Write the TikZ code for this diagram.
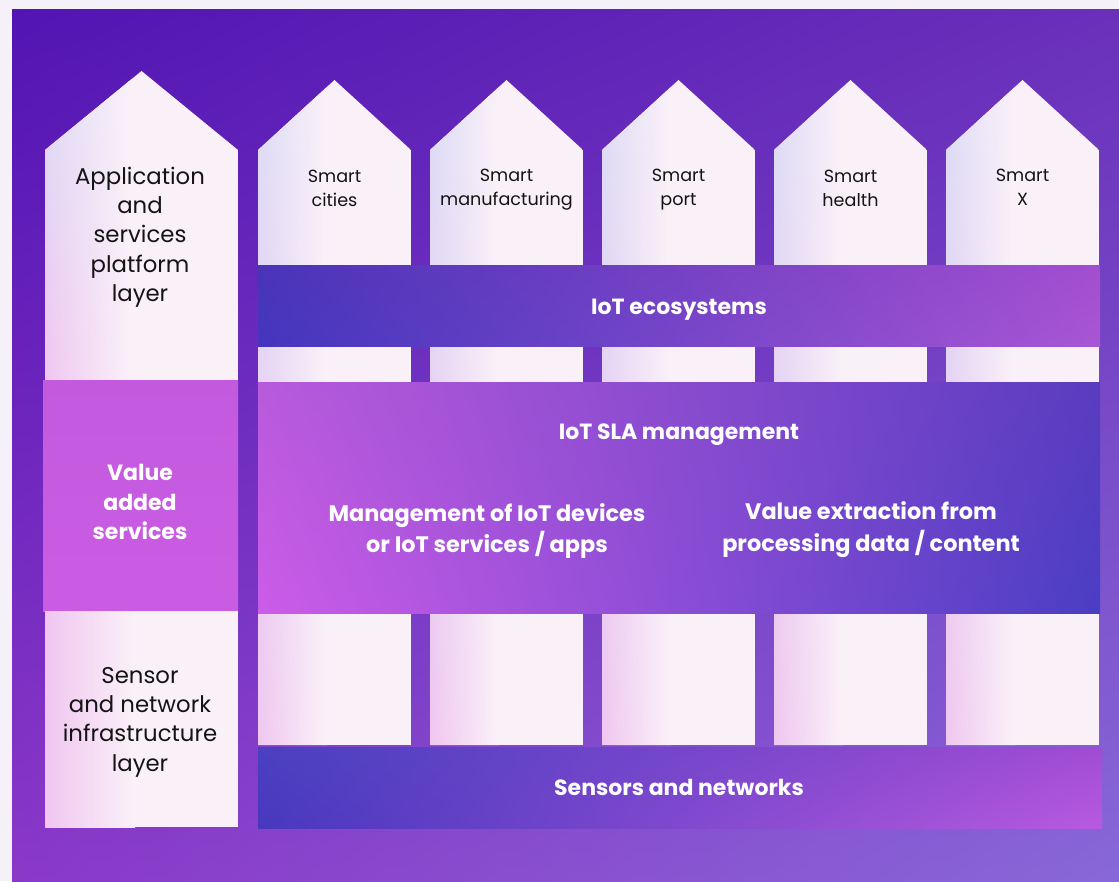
\documentclass[tikz,border=0pt]{standalone}
\usepackage{fontspec}
\usetikzlibrary{shadings}
\setmainfont{Poppins}
\definecolor{pagebg}{HTML}{F6F1F8}
\definecolor{bgUL}{HTML}{5214B3}
\definecolor{bgUR}{HTML}{6A30BA}
\definecolor{bgLL}{HTML}{8A38C8}
\definecolor{bgLR}{HTML}{8868D8}
\definecolor{pilbase}{HTML}{FAF1F8}
\definecolor{pilblue}{HTML}{DCDDF6}
\definecolor{pilpink}{HTML}{F0C6F0}
\definecolor{txtdark}{HTML}{141414}
\definecolor{ecoUL}{HTML}{4A34B8}
\definecolor{ecoLL}{HTML}{4436BE}
\definecolor{ecoUR}{HTML}{A24ED0}
\definecolor{ecoLR}{HTML}{A856D4}
\definecolor{slaUL}{HTML}{B85ADC}
\definecolor{slaLL}{HTML}{CC5CE8}
\definecolor{slaUR}{HTML}{5A3CC0}
\definecolor{slaLR}{HTML}{4A3EC4}
\definecolor{senUL}{HTML}{4A40C0}
\definecolor{senLL}{HTML}{4838BE}
\definecolor{senUR}{HTML}{A04CD4}
\definecolor{senLR}{HTML}{B85AE0}
\definecolor{vasT}{HTML}{C35ADE}
\definecolor{vasB}{HTML}{CA5CE4}
\newcommand\mypillar[5]{%
  \begin{scope}
    \clip (#1,150) -- ({(#1+#2)/2},#3) -- (#2,150) -- (#2,#4) -- (#1,#4) -- cycle;
    \fill[pilbase] (#1,#3) rectangle (#2,#4);
    \shade[upper left=pilblue, lower left=#5, upper right=pilbase, lower right=pilbase] (#1,{#3-2}) rectangle ({#1+0.45*(#2-#1)},{#4+2});
  \end{scope}}
\begin{document}
\begin{tikzpicture}[x=1pt,y=-1pt,
  ptext/.style={align=center, text=txtdark, font=\fontsize{22.8}{29.3}\selectfont, inner sep=0pt},
  ctext/.style={align=center, text=txtdark, font=\fontsize{17.6}{24}\selectfont, inner sep=0pt},
  wtext/.style={align=center, text=white, font=\fontsize{22}{29.3}\selectfont\bfseries, inner sep=0pt},
  btext/.style={align=center, text=white, font=\fontsize{22.4}{32}\selectfont\bfseries, inner sep=0pt}]
\useasboundingbox (0,0) rectangle (1119,881);
\fill[pagebg] (0,0) rectangle (1119,881);
\shade[upper left=bgUL, upper right=bgUR, lower left=bgLL, lower right=bgLR] (12,9) rectangle (1119,881);
% left column
\mypillar{45}{238}{71}{380}{pilpink}
\shade[top color=vasT, bottom color=vasB] (43,380) rectangle (238,611);
\begin{scope}
  \clip (45,611) rectangle (238,827);
  \fill[pilbase] (45,611) rectangle (238,827);
  \shade[left color=pilpink, right color=pilbase] (45,608) rectangle (135,830);
\end{scope}
% pillars
\mypillar{258}{411}{80}{745}{pilpink}
\mypillar{430}{583}{80}{745}{pilpink}
\mypillar{602}{755}{80}{745}{pilpink}
\mypillar{774}{927}{80}{745}{pilpink}
\mypillar{946}{1099}{80}{745}{pilpink}
% bands
\shade[upper left=ecoUL, lower left=ecoLL, upper right=ecoUR, lower right=ecoLR] (258,265) rectangle (1100,346);
\shade[upper left=slaUL, lower left=slaLL, upper right=slaUR, lower right=slaLR] (258,382) rectangle (1100,613);
\shade[upper left=senUL, lower left=senLL, upper right=senUR, lower right=senLR] (258,747) rectangle (1102,828);
% texts
\node[ptext] (app) at (140,237) {Application\\and\\services\\platform\\layer};
\node[wtext] (vas) at (140,502) {Value\\added\\services};
\node[ptext] (snl) at (140,722) {Sensor\\and network\\infrastructure\\layer};
\node[ctext] (c1) at (334.5,188) {Smart\\cities};
\node[ctext] (c2) at (506.5,190) {Smart\\manufacturing};
\node[ctext] (c3) at (678.5,190) {Smart\\port};
\node[ctext] (c4) at (850.5,188) {Smart\\health};
\node[ctext] (c5) at (1022.5,187) {Smart\\X};
\node[wtext] (eco) at (679,310) {IoT ecosystems};
\node[wtext] (sla) at (679,434.5) {IoT SLA management};
\node[btext] (mgmt) at (487,531) {Management of IoT devices\\or IoT services / apps};
\node[btext] (vex) at (871,530) {Value extraction from\\processing data / content};
\node[wtext] (sen) at (679,787.5) {Sensors and networks};
\end{tikzpicture}
\end{document}
